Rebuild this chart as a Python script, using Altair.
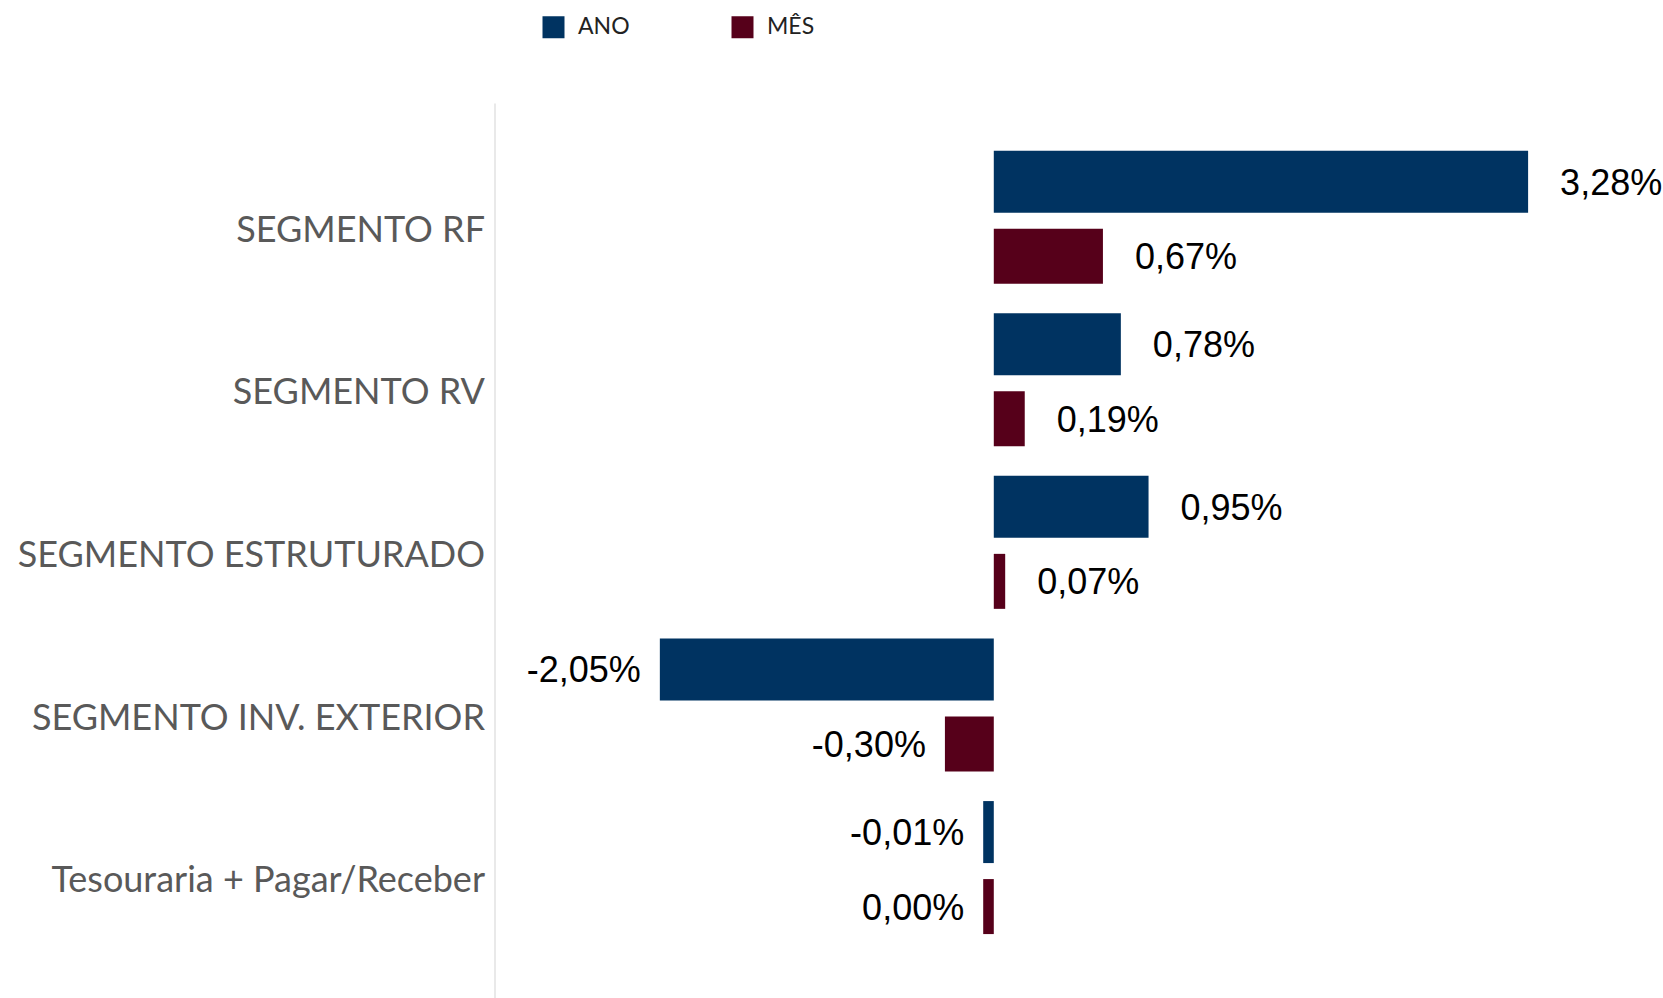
import altair as alt
import pandas as pd

# ---- data ----
categories = [
    "SEGMENTO RF",
    "SEGMENTO RV",
    "SEGMENTO ESTRUTURADO",
    "SEGMENTO INV. EXTERIOR",
    "Tesouraria + Pagar/Receber",
]
series = ["ANO", "MÊS"]
ano = [3.28, 0.78, 0.95, -2.05, -0.01]
mes = [0.67, 0.19, 0.07, -0.30, 0.00]
colors = ["#003361", "#56001a"]

rows = []
for c, a, m in zip(categories, ano, mes):
    for s, v in (("ANO", a), ("MÊS", m)):
        rows.append({
            "cat": c,
            "serie": s,
            "v": v,
            "label": f"{v:.2f}".replace(".", ",") + "%",
        })
df = pd.DataFrame(rows)

base = alt.Chart(df).transform_calculate(
    # near-zero values are drawn as a thin sliver on the left, as in the original
    bar="abs(datum.v) < 0.065 ? -0.065 : datum.v"
)

x_scale = alt.Scale(domain=[-3.065, 4.105], nice=False, zero=False)
y_enc = alt.Y(
    "cat:N",
    sort=categories,
    scale=alt.Scale(paddingInner=0, paddingOuter=0.252, align=0.422),
    axis=alt.Axis(
        title=None,
        ticks=False,
        grid=False,
        domain=True,
        domainColor="#e2e2e2",
        domainWidth=1.5,
        labelFont="Lato",
        labelFontSize=36,
        labelColor="#595959",
        labelPadding=10,
        labelOffset=12,
        labelLimit=700,
    ),
)
yoff = alt.YOffset(
    "serie:N", sort=series, scale=alt.Scale(paddingInner=0, paddingOuter=0.0913)
)

bars = base.mark_bar().encode(
    x=alt.X("bar:Q", scale=x_scale, axis=None, stack=None),
    x2=alt.datum(0),
    y=y_enc,
    yOffset=yoff,
    size=alt.condition("datum.serie == 'ANO'", alt.value(62), alt.value(55)),
    color=alt.Color(
        "serie:N",
        sort=series,
        scale=alt.Scale(domain=series, range=colors),
        legend=alt.Legend(
            title=None,
            orient="none",
            direction="horizontal",
            legendX=47.5,
            legendY=-87.5,
            padding=0,
            symbolType="square",
            symbolSize=484,
            symbolStrokeWidth=0,
            labelFont="Lato",
            labelFontSize=23,
            labelColor="#222222",
            labelOffset=13,
            columnPadding=101,
        ),
    ),
)

text_style = dict(font="Liberation Sans", fontSize=36, color="#000000",
                  baseline="middle", dy=2)

text_pos = base.transform_filter("datum.bar >= 0").mark_text(
    align="left", dx=32, **text_style
).encode(
    x=alt.X("bar:Q", scale=x_scale, axis=None),
    y=y_enc,
    yOffset=yoff,
    text="label:N",
)
text_neg = base.transform_filter("datum.bar < 0").mark_text(
    align="right", dx=-19, **text_style
).encode(
    x=alt.X("bar:Q", scale=x_scale, axis=None),
    y=y_enc,
    yOffset=yoff,
    text="label:N",
)

chart = (
    alt.layer(bars, text_pos, text_neg)
    .properties(
        width=1168,
        height=895,
        autosize=alt.AutoSizeParams(type="none"),
        padding={"left": 494.5, "top": 103, "right": 0, "bottom": 0},
        background="white",
    )
    .configure_view(stroke=None)
)

chart.save("out.html", embed_options={"renderer": "svg", "actions": False})
